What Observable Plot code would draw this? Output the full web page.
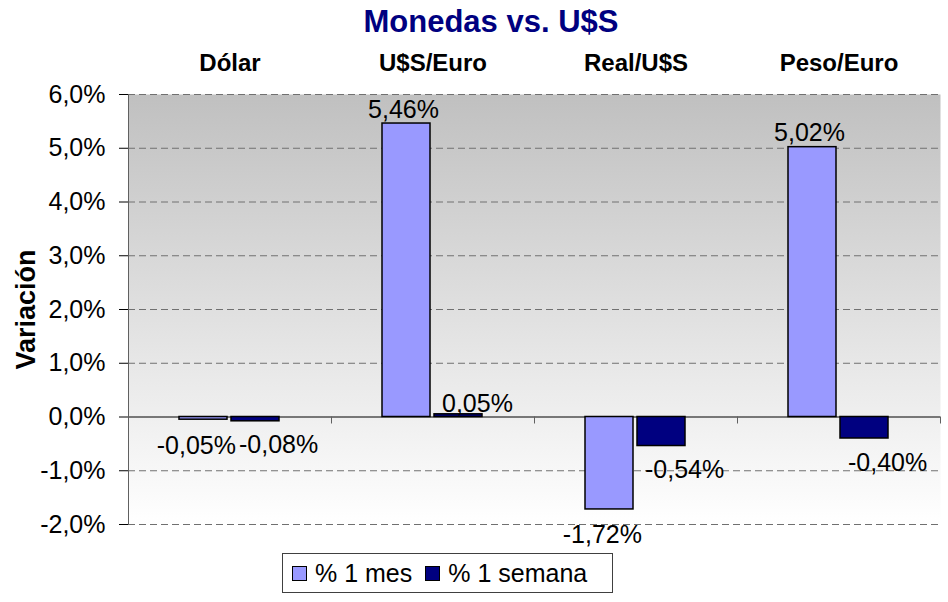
<!DOCTYPE html>
<html><head><meta charset="utf-8">
<script src="https://cdn.jsdelivr.net/npm/d3@7"></script>
<script src="https://cdn.jsdelivr.net/npm/@observablehq/plot@0.6"></script>
<style>
body{margin:0;background:#fff;font-family:"Liberation Sans",Arial,sans-serif;}
#wrap{position:relative;width:948px;height:602px;overflow:hidden;}
#title{position:absolute;left:34px;width:914px;top:1px;height:42px;line-height:42px;text-align:center;font-weight:bold;font-size:31px;color:#000080;}
#chart{position:absolute;left:0;top:42px;}
#legend{position:absolute;left:282px;top:553px;width:329px;height:38px;border:1px solid #404040;display:flex;align-items:center;font-size:25px;color:#000;white-space:nowrap;}
.sw{display:inline-block;width:13px;height:13px;border:1.5px solid #000;margin:0 8px 0 9px;}
</style></head><body>
<div id="wrap"><div id="title">Monedas vs. U$S</div><div id="chart"></div><div id="legend"></div></div>
<script>
const categories = ["Dólar", "U$S/Euro", "Real/U$S", "Peso/Euro"];
const series = ["% 1 mes", "% 1 semana"];
const mes = [-0.05, 5.46, -1.72, 5.02];
const semana = [-0.08, 0.05, -0.54, -0.40];
const yTicks = [-2, -1, 0, 1, 2, 3, 4, 5, 6];
const colors = ["#9999FF", "#000080"];

const fmtTick = v => v.toFixed(1).replace(".", ",") + "%";
const fmtVal = v => v.toFixed(2).replace(".", ",") + "%";
const rowsMes = categories.map((c, i) => ({cat: c, value: mes[i]}));
const rowsSem = categories.map((c, i) => ({cat: c, value: semana[i]}));

const plot = Plot.plot({
  width: 948, height: 506,
  marginLeft: 128, marginRight: 8, marginTop: 52, marginBottom: 24,
  style: {fontFamily: "Liberation Sans, Arial, sans-serif", fontSize: "25px", color: "#000", background: "transparent", overflow: "visible"},
  x: {domain: categories, paddingInner: 0, paddingOuter: 0},
  y: {domain: [-2, 6]},
  marks: [
    Plot.frame({fill: "url(#bgGrad)", stroke: null}),
    Plot.ruleY(yTicks.filter(t => t !== 0), {stroke: "#707070", strokeDasharray: "7,4"}),
    Plot.ruleY([0], {stroke: "#000", strokeWidth: 1.2}),
    Plot.frame({anchor: "left", stroke: "#606060"}),
    Plot.ruleX(categories, {x: d => d, y1: 0, y2: -0.13, dx: 101.5, stroke: "#606060"}),
    Plot.barY(rowsMes, {x: "cat", y: "value", fill: colors[0], stroke: "#000", strokeWidth: 1.5, insetLeft: 51, insetRight: 104}),
    Plot.barY(rowsSem, {x: "cat", y: "value", fill: colors[1], stroke: "#000", strokeWidth: 1.5, insetLeft: 103, insetRight: 52}),
    Plot.text(rowsMes, {filter: d => d.value >= 0, x: "cat", y: "value", text: d => fmtVal(d.value), textAnchor: "end", dx: 6, dy: -14, lineAnchor: "middle"}),
    Plot.text(rowsMes, {filter: d => d.value < 0, x: "cat", y: "value", text: d => fmtVal(d.value), textAnchor: "end", dx: 6, dy: 26, lineAnchor: "middle"}),
    Plot.text(rowsSem, {filter: d => d.value >= 0, x: "cat", y: "value", text: d => fmtVal(d.value), textAnchor: "start", dx: 9, dy: -10, lineAnchor: "middle"}),
    Plot.text(rowsSem, {filter: d => d.value < 0, x: "cat", y: "value", text: d => fmtVal(d.value), textAnchor: "start", dx: 9, dy: 24, lineAnchor: "middle"}),
    Plot.axisX({anchor: "top", tickSize: 0, tickPadding: 24, fontWeight: "bold", fontSize: 24, label: null}),
    Plot.axisY({ticks: yTicks, tickFormat: fmtTick, tickSize: 9, tickPadding: 14, label: null}),
    Plot.text(["Variación"], {frameAnchor: "left", text: d => d, rotate: -90, textAnchor: "middle", lineAnchor: "middle", dx: -102, fontWeight: "bold", fontSize: 27})
  ]
});
d3.select(plot).insert("defs", ":first-child").html(
  '<linearGradient id="bgGrad" x1="0" y1="0" x2="0" y2="1"><stop offset="0" stop-color="#C0C0C0"/><stop offset="1" stop-color="#FFFFFF"/></linearGradient>'
);
document.getElementById("chart").appendChild(plot);

const legend = document.getElementById("legend");
series.forEach((s, i) => {
  const sw = document.createElement("span");
  sw.className = "sw";
  sw.style.background = colors[i];
  if (i > 0) sw.style.marginLeft = "13px";
  legend.appendChild(sw);
  const t = document.createElement("span");
  t.textContent = s;
  legend.appendChild(t);
});
</script>
</body></html>
